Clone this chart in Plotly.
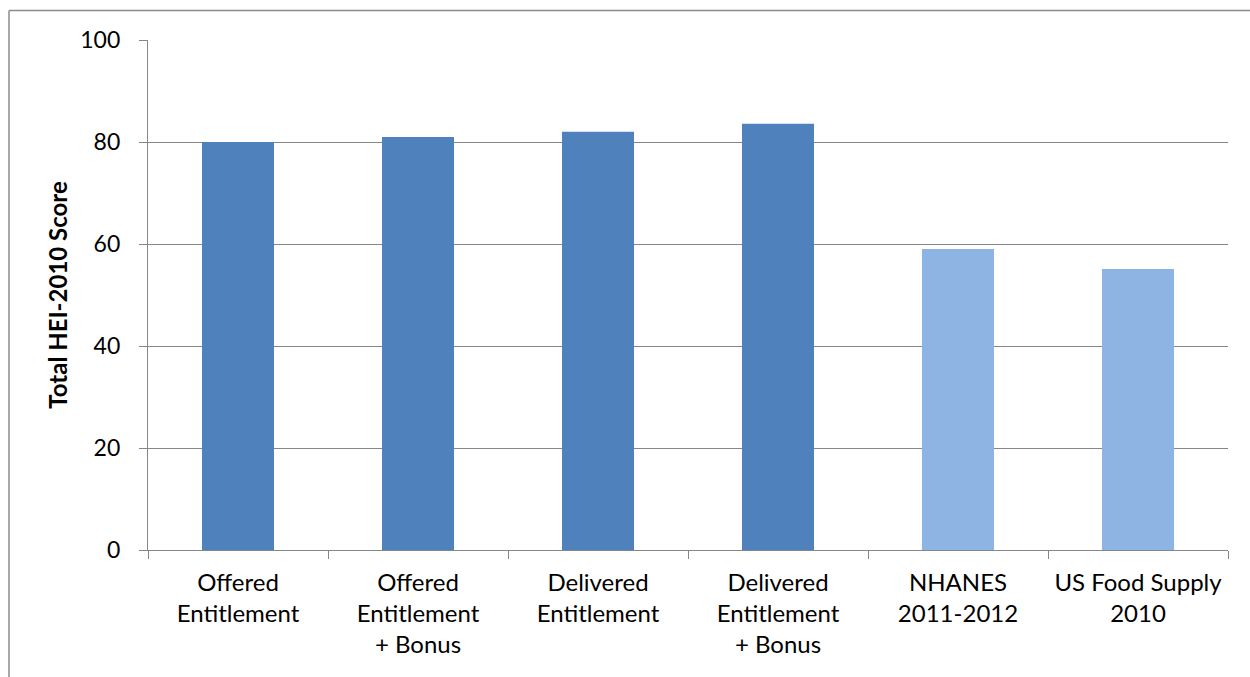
import plotly.graph_objects as go

categories = ["Offered<br>Entitlement", "Offered<br>Entitlement<br>+ Bonus", "Delivered<br>Entitlement",
              "Delivered<br>Entitlement<br>+ Bonus", "NHANES<br>2011-2012", "US Food Supply<br>2010"]
scores = [80.0, 81.0, 82.0, 83.6, 59.0, 55.1]
bar_colors = ["#4F81BD", "#4F81BD", "#4F81BD", "#4F81BD", "#8EB4E3", "#8EB4E3"]
y_ticks = [0, 20, 40, 60, 80, 100]

FONT = "Lato"
GRID = "#878787"

fig = go.Figure(go.Bar(x=categories, y=scores, marker=dict(color=bar_colors, line=dict(width=0))))

fig.update_layout(
    width=1250, height=677,
    margin=dict(l=148, r=22, t=40, b=127),
    paper_bgcolor="white", plot_bgcolor="white",
    bargap=0.6, showlegend=False,
    font=dict(family=FONT, size=24, color="black"),
    xaxis=dict(
        type="category", tickson="boundaries", ticks="outside", ticklen=8, tickcolor=GRID,
        tickwidth=1.3, showline=True, linecolor=GRID, linewidth=1.3, showgrid=False,
        ticklabelstandoff=11,
        tickfont=dict(family=FONT, size=24, color="black"),
    ),
    yaxis=dict(
        range=[0, 100], tickvals=y_ticks, ticks="outside", ticklen=8, tickcolor=GRID, tickwidth=1.3,
        showline=True, linecolor=GRID, linewidth=1.3, showgrid=True, gridcolor=GRID, gridwidth=1.3,
        zeroline=False, ticklabelstandoff=14,
        tickfont=dict(family=FONT, size=23, color="black"),
        title=dict(text="<b>Total HEI-2010 Score</b>", font=dict(family=FONT, size=24, color="black"), standoff=5),
    ),
    shapes=[
        dict(type="line", xref="paper", yref="paper", x0=-0.1287, x1=1.05, y0=1.0578, y1=1.0578,
             line=dict(color="#8C8C8C", width=1.5)),
        dict(type="line", xref="paper", yref="paper", x0=-0.1287, x1=-0.1287, y0=1.0578, y1=-0.3,
             line=dict(color="#8C8C8C", width=1.5)),
    ],
)

fig.write_html("out.html")
